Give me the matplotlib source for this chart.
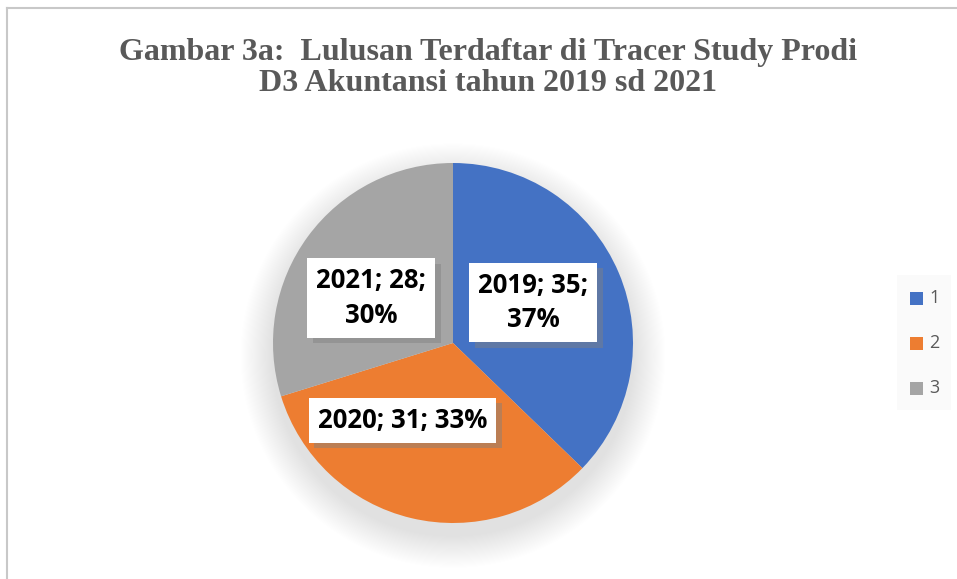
import matplotlib
matplotlib.use("Agg")
import matplotlib.pyplot as plt
import matplotlib.patheffects as pe
from matplotlib.patches import Circle, Rectangle
import numpy as np

years = ["2019", "2020", "2021"]
values = [35, 31, 28]
percents = ["37%", "33%", "30%"]
legend_labels = ["1", "2", "3"]
colors = ["#4472C4", "#ED7D31", "#A5A5A5"]
title = "Gambar 3a:  Lulusan Terdaftar di Tracer Study Prodi\nD3 Akuntansi tahun 2019 sd 2021"

W, H = 957, 579
fig = plt.figure(figsize=(W / 100, H / 100), dpi=100)
fig.patch.set_facecolor("white")

# border lines (top and left)
fig.add_artist(plt.Line2D([7.5 / W, 1], [1 - 7.5 / H, 1 - 7.5 / H], transform=fig.transFigure,
                          color="#C8C8C8", lw=1.5))
fig.add_artist(plt.Line2D([7.5 / W, 7.5 / W], [0, 1 - 7.5 / H], transform=fig.transFigure,
                          color="#C8C8C8", lw=1.5))

fig.text(488 / W, 1 - 68 / H, title, ha="center", va="center", fontsize=23,
         fontweight="bold", family="Liberation Serif", color="#595959", linespacing=1.1)

cx, cy, r = 453, H - 343, 180
ax = fig.add_axes([(cx - r) / W, (cy - r) / H, 2 * r / W, 2 * r / H])

# soft shadow
n = 30
for i in range(n):
    rad = 1.0 + 0.18 * (i + 1) / n
    ax.add_patch(Circle((0.0, -0.07), rad, facecolor="black", edgecolor="none",
                        alpha=0.0045, zorder=0, clip_on=False))

wedges, _ = ax.pie(values, colors=colors, startangle=90, counterclock=False,
                   radius=1.0, wedgeprops=dict(linewidth=0))
for w in wedges:
    w.set_zorder(2)
ax.set_xlim(-1, 1)
ax.set_ylim(-1, 1)
ax.set_aspect("equal")
ax.axis("off")

label_pos = [(0.445, 0.225), (-0.28, -0.43), (-0.455, 0.25)]
label_txt = [f"{years[0]}; {values[0]};\n{percents[0]}",
             f"{years[1]}; {values[1]}; {percents[1]}",
             f"{years[2]}; {values[2]};\n{percents[2]}"]
for (x, y), t in zip(label_pos, label_txt):
    txt = ax.text(x, y, t, ha="center", va="center", fontsize=18.5, fontweight="bold",
                  family="Open Sans", color="black", linespacing=1.35,
                  bbox=dict(boxstyle="square,pad=0.35", facecolor="white", edgecolor="none"),
                  zorder=4)
    txt.get_bbox_patch().set_path_effects([
        pe.SimplePatchShadow(offset=(4, -4), shadow_rgbFace="#808080", alpha=0.45),
        pe.Normal()])

# legend
fig.add_artist(Rectangle((897 / W, 1 - 410 / H), 54 / W, 135 / H, transform=fig.transFigure,
                         facecolor="#FAFAFA", edgecolor="none"))
ys = [298, 343, 388]
for c, lab, yy in zip(colors, legend_labels, ys):
    fig.add_artist(Rectangle((910 / W, 1 - (yy + 6.5) / H), 13 / W, 13 / H,
                             transform=fig.transFigure, facecolor=c, edgecolor="none"))
    fig.text(929 / W, 1 - yy / H, lab, ha="left", va="center", fontsize=13,
             color="#595959", family="Open Sans")

fig.savefig("out.png", dpi=100)
